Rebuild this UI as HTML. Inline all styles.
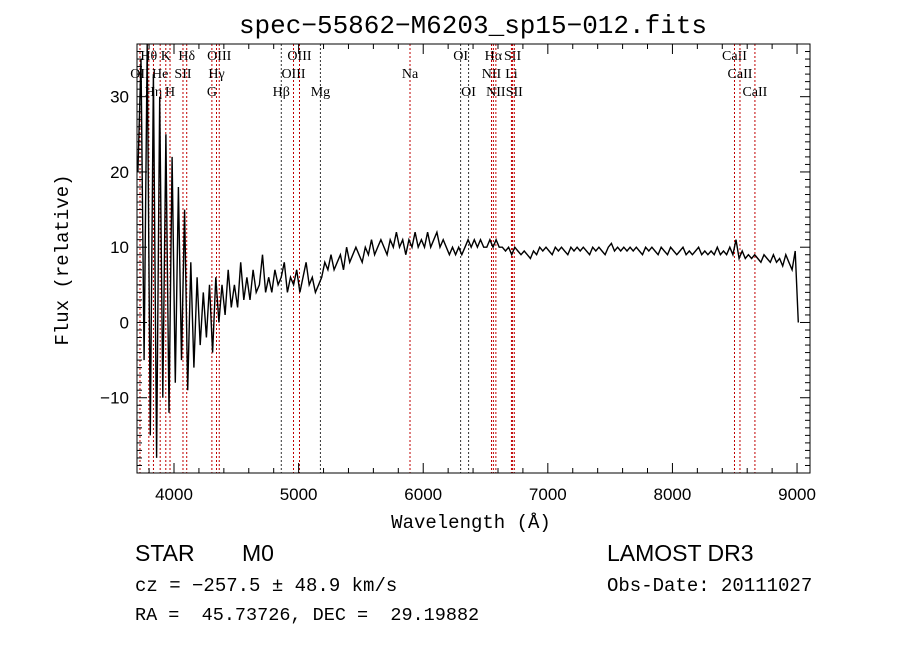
<!DOCTYPE html>
<html><head><meta charset="utf-8"><style>
body{margin:0;background:#fff;}
svg{display:block;}
text{white-space:pre;}
</style></head><body>
<svg id="chart" width="900" height="649" xmlns="http://www.w3.org/2000/svg">
<rect width="900" height="649" fill="#fff"/>
<text x="473" y="33" font-family="Liberation Mono, monospace" font-size="26" text-anchor="middle">spec−55862−M6203_sp15−012.fits</text>
<g id="lines"></g>
<g id="spec"></g>
<rect x="137" y="44" width="673" height="429" fill="none" stroke="#000" stroke-width="1"/>
<g id="axes"></g>
<text x="471" y="528" font-family="Liberation Mono, monospace" font-size="19" text-anchor="middle">Wavelength (Å)</text>
<text transform="translate(68,260) rotate(-90)" font-family="Liberation Mono, monospace" font-size="19" text-anchor="middle">Flux (relative)</text>
<text x="135" y="561" font-family="Liberation Sans, sans-serif" font-size="23">STAR</text>
<text x="242" y="561" font-family="Liberation Sans, sans-serif" font-size="23">M0</text>
<text x="135" y="591" font-family="Liberation Mono, monospace" font-size="19" xml:space="preserve">cz = −257.5 ± 48.9 km/s</text>
<text x="135" y="620" font-family="Liberation Mono, monospace" font-size="18.5" xml:space="preserve">RA =  45.73726, DEC =  29.19882</text>
<text x="607" y="561" font-family="Liberation Sans, sans-serif" font-size="23">LAMOST DR3</text>
<text x="607" y="591" font-family="Liberation Mono, monospace" font-size="19">Obs-Date: 20111027</text>
</svg>
<script>
const waveStart = 3710;
const waveStep = 25;
const flux = [20,35,-5,37,-15,33,-18,30,-10,25,-12,22,-8,18,-5,15,-9,8,-6,6,-3,4,-2,5,-4,6,0,5,1,7,2,5,2,8,3,6,3,7,4,5,9,4,6,4,7,5,6,8,4,6,5,7,4,6,8,5,6,4,5,6,8,7,9,7,8,9,7,10,8,9,10,9,8,10,9,11,9,10,11,10,9,11,10,12,10,11,9,11,10,12,10,11,10,12,10,11,12,10,11,10,9,10,9,10,9,10,11,10,11,10,11,10,10,11,10,11,10,10,9.5,10,9,10,9.5,9,9.5,9,8.5,9.5,9,10,9.5,10,9.5,9,10,9.5,10,9.5,9,10,9.5,10,9.5,10,9.5,9,10,9.5,10,9.5,9,10,10.5,9.5,10,9.5,10,9.5,10,9.5,10,9.5,9,10,9.5,10,9.5,9,10,9.5,9,10,9.5,9,9.5,10,9,9.5,9,9.5,10,9,9.5,9,9.5,9,10,9,9.5,9,10,9,11,8.5,9.5,8.5,9,8.5,9,8.5,8,9,8.5,8,9,8,8.5,7.5,9,8,7,9.5,0];
const lineWaves = [3727,3798,3835,3889,3934,3968,4072,4102,4304,4341,4363,4861,4959,5007,5175,5894,6300,6364,6548,6563,6583,6708,6717,6731,8498,8542,8662];
const lineNames = ["OII","Hθ","Hη","He","K","H","SII","Hδ","G","Hγ","OIII","Hβ","OIII","OIII","Mg","Na","OI","OI","NII","Hα","NII","Li","SII","SII","CaII","CaII","CaII"];
const lineRows = [1,0,2,1,0,2,1,0,2,1,0,2,1,0,2,1,0,2,1,0,2,1,0,2,0,1,2];
const xTicks = [4000,5000,6000,7000,8000,9000];
const yTicks = [-10,0,10,20,30];

const X0=137,X1=810,Y0=44,Y1=473, WMIN=3703, WMAX=9104, FMIN=-20, FMAX=37;
const xs = w => X0 + (w-WMIN)/(WMAX-WMIN)*(X1-X0);
const ys = f => Y1 - (f-FMIN)/(FMAX-FMIN)*(Y1-Y0);
const NS="http://www.w3.org/2000/svg";
function mk(tag, parent){const e=document.createElementNS(NS,tag);parent.appendChild(e);return e;}

const lg=document.getElementById('lines');
const rowY=[60,78,96];
lineWaves.forEach((w,i)=>{
  const x=xs(w);
  const l=mk('line',lg);
  
  
  const dark = (lineNames[i]==="Hβ"||lineNames[i]==="OI"||lineNames[i]==="Mg");
  l.setAttribute('x1',x);l.setAttribute('x2',x);l.setAttribute('y1',Y0);l.setAttribute('y2',Y1);
  l.setAttribute('stroke',dark?'#333':'#c00000');l.setAttribute('stroke-dasharray','2,2');l.setAttribute('stroke-width','1');
  const t=mk('text',lg);
  
  
  t.setAttribute('x',x);t.setAttribute('y',rowY[lineRows[i]]);
  t.setAttribute('text-anchor','middle');t.setAttribute('font-family','Liberation Serif, serif');t.setAttribute('font-size','14');
  t.textContent=lineNames[i];
});

const sg=document.getElementById('spec');
let d='';
flux.forEach((f,i)=>{const w=waveStart+i*waveStep;d+=(i?'L':'M')+xs(w).toFixed(1)+','+Math.max(Y0,Math.min(Y1,ys(f))).toFixed(1);});
const p=mk('path',sg);


p.setAttribute('d',d);p.setAttribute('fill','none');p.setAttribute('stroke','#000');p.setAttribute('stroke-width','1.4');

const ag=document.getElementById('axes');
function tick(x1,y1,x2,y2){const l=mk('line',ag);l.setAttribute('x1',x1);l.setAttribute('y1',y1);l.setAttribute('x2',x2);l.setAttribute('y2',y2);l.setAttribute('stroke','#000');

}
for(let w=3800;w<=WMAX;w+=200){const x=xs(w);const major=w%1000===0;const L=major?10:5;tick(x,Y1,x,Y1-L);tick(x,Y0,x,Y0+L);}
for(let f=FMIN;f<=FMAX;f+=1){const y=ys(f);const major=f%10===0;const L=major?10:5;tick(X0,y,X0+L,y);tick(X1,y,X1-L,y);}
xTicks.forEach(w=>{const t=mk('text',ag);


t.setAttribute('x',xs(w));t.setAttribute('y',Y1+27);t.setAttribute('text-anchor','middle');t.setAttribute('font-family','Liberation Sans, sans-serif');t.setAttribute('font-size','17');t.textContent=w;});
yTicks.forEach(f=>{const t=mk('text',ag);


t.setAttribute('x',X0-8);t.setAttribute('y',ys(f)+6);t.setAttribute('text-anchor','end');t.setAttribute('font-family','Liberation Sans, sans-serif');t.setAttribute('font-size','17');t.textContent=(f<0?'−'+(-f):f);});
</script>
</body></html>
